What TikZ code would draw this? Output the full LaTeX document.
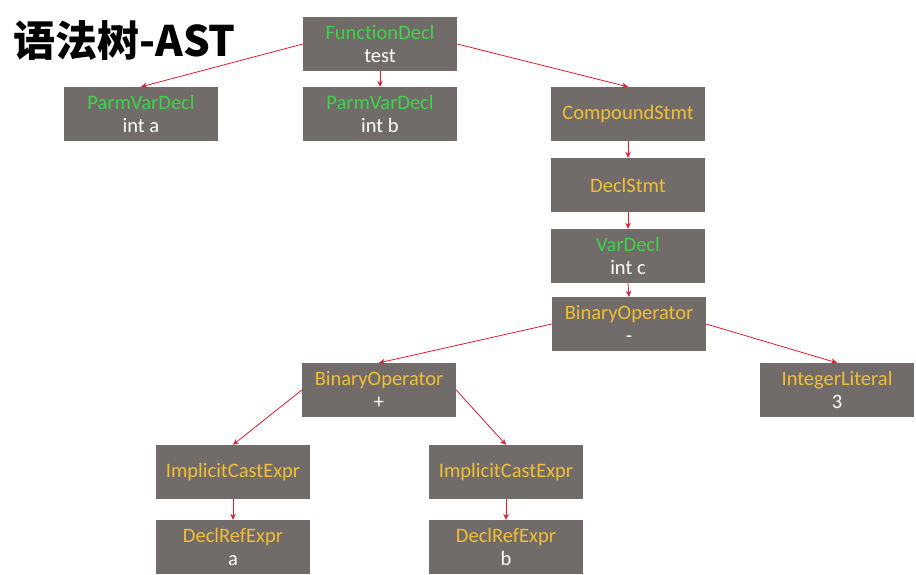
\documentclass[tikz,border=0pt]{standalone}
\usepackage{fontspec}
\setmainfont{Carlito}[Ligatures=NoCommon]
\newfontfamily\cjkfont{Noto Sans CJK SC}
\usetikzlibrary{arrows.meta}
\definecolor{boxgray}{RGB}{113,108,106}
\definecolor{astgreen}{RGB}{62,212,72}
\definecolor{astorange}{RGB}{242,190,52}
\definecolor{astred}{RGB}{222,30,48}
\tikzset{
  astbox/.style={draw=none, fill=boxgray, minimum width=154pt, minimum height=54pt,
    inner sep=0pt, align=center, text=white, font=\fontsize{20.5}{23.5}\selectfont},
  arr/.style={draw=astred, line width=0.8pt, -{Stealth[length=6pt,width=5.5pt]}}
}
\newcommand{\gr}[1]{\textcolor{astgreen}{#1}}
\newcommand{\orr}[1]{\textcolor{astorange}{#1}}
\begin{document}
\begin{tikzpicture}[x=1pt,y=-1pt]
\useasboundingbox[fill=white] (0,0) rectangle (916,574);
\node[anchor=west, font=\cjkfont\bfseries\fontsize{42}{46}\selectfont, inner sep=0pt] (title) at (13,41) {语法树-AST};
\node[astbox] (fd) at (380,44) {\gr{FunctionDecl}\\test};
\node[astbox] (pa) at (141,114) {\gr{ParmVarDecl}\\int a};
\node[astbox] (pb) at (380,114) {\gr{ParmVarDecl}\\int b};
\node[astbox] (cs) at (628,114) {\orr{CompoundStmt}};
\node[astbox] (ds) at (628,185) {\orr{DeclStmt}};
\node[astbox] (vd) at (628,256) {\gr{VarDecl}\\int c};
\node[astbox] (bm) at (629,324) {\orr{BinaryOperator}\\-};
\node[astbox] (il) at (837,390) {\orr{IntegerLiteral}\\3};
\node[astbox] (bp) at (379,390) {\orr{BinaryOperator}\\+};
\node[astbox] (ica) at (233,472) {\orr{ImplicitCastExpr}};
\node[astbox] (icb) at (506,472) {\orr{ImplicitCastExpr}};
\node[astbox] (dra) at (233,547) {\orr{DeclRefExpr}\\a};
\node[astbox] (drb) at (506,547) {\orr{DeclRefExpr}\\b};
\draw[arr] (fd.west) -- (pa.north);
\draw[arr] (fd.south) -- (pb.north);
\draw[arr] (fd.east) -- (cs.north);
\draw[arr] (cs.south) -- (ds.north);
\draw[arr] (ds.south) -- (vd.north);
\draw[arr] (vd.south) -- (bm.north);
\draw[arr] (bm.west) -- (bp.north);
\draw[arr] (bm.east) -- (il.north);
\draw[arr] (bp.west) -- (ica.north);
\draw[arr] (bp.east) -- (icb.north);
\draw[arr] (ica.south) -- (dra.north);
\draw[arr] (icb.south) -- (drb.north);
\end{tikzpicture}
\end{document}
